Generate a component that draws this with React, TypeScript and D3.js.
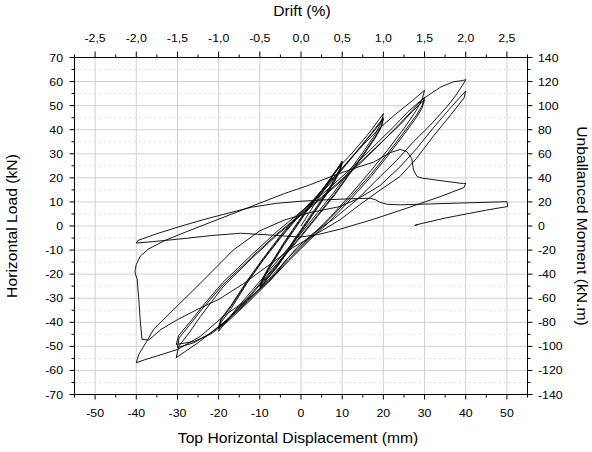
import * as d3 from 'd3';

const W = 592;
const H = 452;
const FONT = 'Liberation Sans, Arial, sans-serif';

// displacement (mm), horizontal load (kN)
const cycles10: [number, number][] = [
  [0, 0], [2, 5.5], [4, 11], [6, 16], [8, 21.5], [10, 27],
  [9.5, 24], [8, 19], [6, 13.5], [4, 8.5], [2, 3.5], [0, -1.5], [-2, -6.5], [-4, -12], [-6, -17], [-8, -21.5], [-10, -26],
  [-9.5, -23], [-8, -18.5], [-6, -13], [-4, -7.5], [-2, -2.5], [0, 2.5], [2, 7.5], [4, 12], [6, 17], [8, 22], [10, 26.5],
  [9.4, 23], [8, 18.5], [6, 13], [4, 8], [2, 3], [0, -2], [-2, -7], [-4, -12.5], [-6, -17.5], [-8, -21.5], [-9.8, -25.5],
  [-9.3, -22.5], [-8, -18], [-6, -12.5], [-4, -7], [-2, -2], [0, 3], [2, 8], [4, 12.5], [6, 17], [8, 21.5], [10, 26],
  [9.4, 22.5], [8, 18], [6, 12.5], [4, 7.5], [2, 2.5], [0, -2.5], [-2, -7.5], [-4, -12.5], [-6, -17.5], [-8, -21], [-10, -25],
  [-9.4, -22], [-8, -17.5], [-6, -12], [-4, -6.5], [-2, -1.5], [0, 3.5], [2, 8], [4, 12.5], [6, 17], [8, 21.5], [10, 26],
];

const cycles20: [number, number][] = [
  [12, 29.5], [14, 33.5], [16, 37.5], [18, 42], [20, 46.7],
  [19.5, 43], [18, 38], [15, 30.5], [12, 23.5], [8, 14], [4, 5.5], [0, -3], [-4, -11], [-8, -19], [-12, -27], [-16, -35], [-18, -39.5], [-20, -43.7],
  [-19.4, -40], [-17.1, -34.7], [-13.1, -23.7], [-9.1, -14], [-5, -5], [-1, 3], [3, 10], [7, 17.5], [11, 25.5], [15, 34], [18, 40.5], [20, 45],
  [19.5, 41.5], [18, 37], [15, 29.5], [12, 22.5], [8, 13], [4, 4.5], [0, -4], [-4, -12], [-8, -20], [-12, -28], [-16, -35.5], [-20, -42.5],
  [-19.4, -39], [-17, -33.5], [-13, -23], [-9, -13.5], [-5, -4.5], [-1, 3.5], [3, 10.5], [7, 18], [11, 26], [15, 34], [18, 40], [20, 44.5],
  [19.5, 41], [18, 36.5], [15, 29], [12, 22], [8, 12.5], [4, 4], [0, -4.5], [-4, -12.5], [-8, -20.5], [-12, -28.5], [-16, -36], [-20, -42],
  [-19.4, -38.5], [-17, -33], [-13, -22.5], [-9, -13], [-5, -4], [-1, 4], [3, 11], [7, 18.5], [11, 26],
];

const cycles30: [number, number][] = [
  [15, 33.5], [19, 40.5], [23, 46.5], [27, 52], [30, 56.4],
  [29.4, 52.5], [28, 48], [25, 40.5], [21, 31.5], [17, 23], [12, 13], [7, 3.5], [2, -5], [-3, -13], [-8, -22.5], [-13, -31], [-18, -39], [-22, -44.5], [-25, -48.5], [-28, -52], [-30.3, -54.7],
  [-29.7, -50], [-27, -44], [-24.4, -37.5], [-18.8, -25], [-12.3, -14], [-6, -4], [0, 4.5], [5, 11.5], [10, 19], [15, 27], [20, 35.5], [24, 42.5], [27, 48], [30, 53.5],
  [29.4, 50], [28, 46], [25, 39], [21, 30], [17, 21.5], [12, 12], [7, 3], [2, -5.5], [-3, -14], [-8, -23], [-13, -31.5], [-18, -39.5], [-22, -44.5], [-26, -48.5], [-30, -50.5],
  [-29.6, -46.5], [-27, -41], [-24, -34.5], [-19, -24.5], [-12, -13], [-6, -3.5], [0, 5], [5, 12], [10, 19.5], [15, 27.5], [20, 35.5], [24, 42], [27, 47.5], [30, 52.5],
  [29.4, 49], [28, 45], [25, 38], [21, 29], [17, 20.5], [12, 11], [7, 2], [2, -6], [-3, -14.5], [-8, -23.5], [-13, -32], [-18, -40], [-22, -45], [-26, -48], [-30.3, -49.2],
];

const cycles40: [number, number][] = [
  [-29.7, -45.5], [-27, -40], [-24, -33.5], [-19, -23.5], [-12, -12], [-6, -2.5], [0, 6], [5, 13], [10, 20.5], [15, 28.5], [19.2, 35.7], [22.5, 41.2], [26, 47.5], [29, 52], [31.5, 55], [34, 57.8], [37, 59.9], [39.2, 60.4], [40, 60.8],
  [39.6, 59.5], [39.2, 58.5], [37.5, 54], [35.4, 49.5], [31.4, 41.9], [27.3, 35], [23.3, 27.4], [19.2, 20.5], [13.6, 11], [8, 3], [3, -3], [-1, -9], [-4, -15], [-7.4, -22.5], [-13.1, -30.6], [-18.8, -37.5], [-24.4, -45.8], [-30, -51.3], [-35, -54], [-38, -55.6], [-40, -56.8],
  [-39.4, -53.4], [-37.5, -48], [-35.8, -43], [-30.1, -33.3], [-24.4, -23.7], [-16.4, -9.9], [-10, -2], [-4, 2.5], [2, 5.5], [9.5, 8.1], [14, 11.5], [19.2, 16.8], [24, 24.5], [28, 32], [32, 40.5], [36, 48.5], [40, 56.1],
  [39.6, 53.2], [36.5, 46.5], [32, 37], [28, 28], [24, 20.5], [19.2, 14.9], [14, 8.5], [9.5, 2.6], [4, -3], [-2, -9], [-8, -16.5], [-14, -24], [-20, -30.5], [-25, -34.5], [-30, -38.9], [-34, -43], [-37, -47.4], [-38.6, -47.1],
  [-39, -40], [-39.4, -30], [-39.8, -22], [-40.2, -20], [-40.3, -18.5],
  [-40, -16], [-39, -12.5], [-37, -9.5], [-33, -6], [-28, -2.5], [-22, 1.5], [-16, 5.5], [-10, 9.5], [-4, 13.5], [2, 17], [8, 21], [13, 24], [17.6, 26.5], [21.7, 30.5], [24.1, 31.8], [25.7, 30.9], [26.9, 28.1], [27.3, 23.3], [28.2, 20.5], [29.7, 19.8], [35, 18.6], [39.5, 17.6], [40, 17.8],
];

const finalRun: [number, number][] = [
  [39.6, 16], [33.8, 12.2], [25.7, 7.4], [17.6, 2.8], [9.5, -1.3], [4, -3.6], [-0.2, -4.6], [-7, -3.8], [-14.7, -3], [-22, -4], [-30, -5.5], [-36, -6.5], [-40, -7.1],
  [-39.6, -6], [-35, -3.2], [-30, -0.5], [-24, 2.5], [-18, 5.2], [-12, 7.8], [-6, 9.4], [0, 10.3], [6.3, 10.9], [12, 11.3], [16.8, 11.5], [18, 11], [19.2, 9.8], [21, 9], [24.1, 8.8], [30, 9.1], [40, 9.6], [50, 10.1],
  [50.2, 8.1], [45, 6.6], [35, 3.3], [28, 0.5], [27.6, 0.2], [28.4, 0.6],
];

const xTicks = [-50, -40, -30, -20, -10, 0, 10, 20, 30, 40, 50];
const xMinor = [-55, -45, -35, -25, -15, -5, 5, 15, 25, 35, 45, 55];
const yTicks = [-70, -60, -50, -40, -30, -20, -10, 0, 10, 20, 30, 40, 50, 60, 70];
const yMinor = [-65, -55, -45, -35, -25, -15, -5, 5, 15, 25, 35, 45, 55, 65];
const driftTicks = [-2.5, -2, -1.5, -1, -0.5, 0, 0.5, 1, 1.5, 2, 2.5];
const driftLabels = ['-2,5', '-2,0', '-1,5', '-1,0', '-0,5', '0,0', '0,5', '1,0', '1,5', '2,0', '2,5'];
const driftMinor = [-2.75, -2.25, -1.75, -1.25, -0.75, -0.25, 0.25, 0.75, 1.25, 1.75, 2.25, 2.75];
const momentTicks = [-140, -120, -100, -80, -60, -40, -20, 0, 20, 40, 60, 80, 100, 120, 140];
const momentMinor = [-130, -110, -90, -70, -50, -30, -10, 10, 30, 50, 70, 90, 110, 130];

const L = 74.5, R = 527.5, T = 57.5, B = 394.5;
const SX = 1.12; // the reference glyphs are a little wider than Arial

export default function App() {
  const x = d3.scaleLinear().domain([-55, 55]).range([L, R]);
  const y = d3.scaleLinear().domain([-70, 70]).range([B, T]);
  const xd = d3.scaleLinear().domain([-2.75, 2.75]).range([L, R]);
  const yr = d3.scaleLinear().domain([-140, 140]).range([B, T]);

  const pts = [...cycles10, ...cycles20, ...cycles30, ...cycles40, ...finalRun];
  const line = d3.line<[number, number]>()
    .x(d => x(d[0]))
    .y(d => y(d[1]));

  const txt = (key: string, tx: number, ty: number, s: string, size: number, anchor: string, rot = 0) => (
    <text key={key} transform={`translate(${tx},${ty}) rotate(${rot}) scale(${SX},1)`}
      textAnchor={anchor} fontSize={size} fontFamily={FONT} fill="#000">{s}</text>
  );

  return (
    <svg width={W} height={H} style={{ position: 'absolute', left: 0, top: 0, background: '#fff' }}>
      {/* grid */}
      {yMinor.map(v => (
        <line key={'ym' + v} x1={L} x2={R} y1={y(v)} y2={y(v)} stroke="#bdbdbd" strokeDasharray="1,4" />
      ))}
      {yTicks.slice(1, -1).map(v => (
        <line key={'yg' + v} x1={L} x2={R} y1={y(v)} y2={y(v)} stroke="#d2d2d2" />
      ))}
      {xTicks.map(v => (
        <line key={'xg' + v} x1={x(v)} x2={x(v)} y1={T} y2={B} stroke="#d2d2d2" />
      ))}

      <path d={line(pts) || ''} fill="none" stroke="#000" strokeWidth={0.9} strokeLinejoin="round" />

      {/* frame */}
      <rect x={L} y={T} width={R - L} height={B - T} fill="none" stroke="#000" />

      {/* bottom axis */}
      {xTicks.map(v => <line key={'bt' + v} x1={x(v)} x2={x(v)} y1={B} y2={B + 5} stroke="#000" />)}
      {xMinor.map(v => <line key={'bm' + v} x1={x(v)} x2={x(v)} y1={B} y2={B + 3} stroke="#000" />)}
      {xTicks.map(v => txt('bl' + v, x(v), 417, String(v), 11, 'middle'))}

      {/* top axis */}
      {driftTicks.map(v => <line key={'tt' + v} x1={xd(v)} x2={xd(v)} y1={T} y2={T - 6} stroke="#000" />)}
      {driftMinor.map(v => <line key={'tm' + v} x1={xd(v)} x2={xd(v)} y1={T} y2={T - 3} stroke="#000" />)}
      {driftTicks.map((v, i) => txt('tl' + v, xd(v), 41.5, driftLabels[i], 11, 'middle'))}

      {/* left axis */}
      {yTicks.map(v => <line key={'lt' + v} x1={L} x2={L - 5} y1={y(v)} y2={y(v)} stroke="#000" />)}
      {yMinor.map(v => <line key={'lm' + v} x1={L} x2={L - 3} y1={y(v)} y2={y(v)} stroke="#000" />)}
      {yTicks.map(v => txt('ll' + v, 63, y(v) + 4, String(v), 11, 'end'))}

      {/* right axis */}
      {momentTicks.map(v => <line key={'rt' + v} x1={R} x2={R + 5} y1={yr(v)} y2={yr(v)} stroke="#000" />)}
      {momentMinor.map(v => <line key={'rm' + v} x1={R} x2={R + 3} y1={yr(v)} y2={yr(v)} stroke="#000" />)}
      {momentTicks.map(v => txt('rl' + v, 538, yr(v) + 4, String(v), 11, 'start'))}

      {/* titles */}
      {txt('t1', 302, 15.5, 'Drift (%)', 14, 'middle')}
      {txt('t2', 298, 442.5, 'Top Horizontal Displacement (mm)', 14, 'middle')}
      {txt('t3', 17, 226, 'Horizontal Load (kN)', 14, 'middle', -90)}
      {txt('t4', 577, 226, 'Unballanced Moment (kN.m)', 14, 'middle', 90)}
    </svg>
  );
}
